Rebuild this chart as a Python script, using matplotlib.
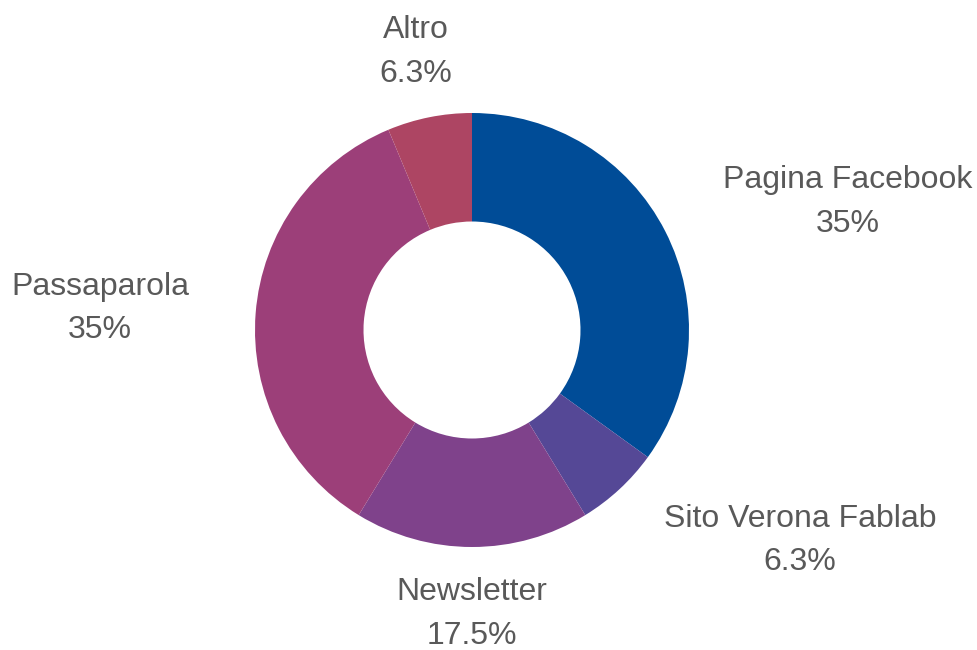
import matplotlib
matplotlib.use("Agg")
from matplotlib import pyplot as plt

plt.rcParams['font.family'] = ['Liberation Sans', 'DejaVu Sans']

categories = ["Pagina Facebook", "Sito Verona Fablab", "Newsletter", "Passaparola", "Altro"]
values = [35, 6.3, 17.5, 35, 6.3]
value_labels = ["35%", "6.3%", "17.5%", "35%", "6.3%"]
colors = ["#004C97", "#554896", "#7F428B", "#9C3F79", "#AD4563"]

# label centres, in units of the outer radius from the centre
label_pos = [(1.733, 0.59), (1.512, -0.968), (0.0, -1.309), (-1.714, 0.101), (-0.258, 1.281)]

fig = plt.figure(figsize=(9.77, 6.5), dpi=100)
ax = fig.add_axes([0, 0, 1, 1])
ax.pie(values, colors=colors, startangle=90, counterclock=False,
       radius=1, wedgeprops=dict(width=0.5, edgecolor="none"))

for name, lab, (x, y) in zip(categories, value_labels, label_pos):
    ax.text(x, y, name + "\n" + lab, ha="center", va="center",
            fontsize=23, color="#595959", linespacing=1.57)

ax.set_xlim(-472 / 217, 505 / 217)
ax.set_ylim(-320 / 217, 330 / 217)
ax.set_aspect("equal")
ax.axis("off")
fig.savefig("out.png", dpi=100)
